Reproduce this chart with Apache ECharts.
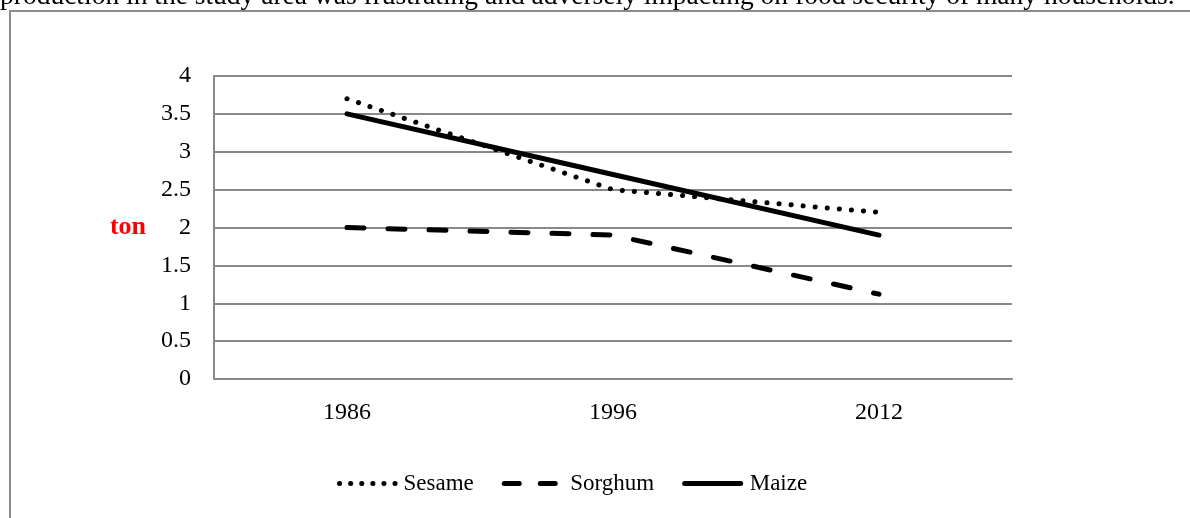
<!DOCTYPE html>
<html>
<head>
<meta charset="utf-8">
<script src="https://cdn.jsdelivr.net/npm/echarts@6/dist/echarts.min.js"></script>
<style>
html, body { margin: 0; padding: 0; background: #fff; }
#chart { width: 1190px; height: 518px; }
</style>
</head>
<body>
<div id="chart"></div>
<script>
var years = ['1986', '1996', '2012'];
var sesame = [3.7, 2.5, 2.2];
var sorghum = [2.0, 1.9, 1.12];
var maize = [3.5, 2.7, 1.9];
var yTicks = ['0', '0.5', '1', '1.5', '2', '2.5', '3', '3.5', '4'];

var font = '"Liberation Serif", "Times New Roman", serif';

function initLineChart(id){
    var chart_obj = echarts.init(document.getElementById(id));
    var option = {
        animation: false,
        graphic: [
            {
                type: 'text',
                left: 0,
                top: -17,
                style: {
                    text: 'production in the study area was frustrating and adversely impacting on food security of many households.',
                    font: '27.5px ' + font,
                    fill: '#000'
                }
            },
            {
                type: 'rect',
                shape: { x: 10, y: 11, width: 1300, height: 700 },
                style: { fill: 'none', stroke: '#8c8c8c', lineWidth: 2 }
            }
        ],
        grid: { left: 214, right: 178, top: 76, bottom: 139 },
        legend: {
            bottom: 18,
            left: 332,
            itemWidth: 56,
            itemHeight: 14,
            itemGap: 28,
            itemStyle: { color: 'rgba(0,0,0,0)', borderWidth: 0 },
            lineStyle: { width: 5, cap: 'round' },
            textStyle: { fontFamily: font, fontSize: 23, color: '#000' },
            data: [
                { name: 'Sesame', lineStyle: { type: [0.1, 11] }, textStyle: { padding: [0, 0, 0, 3] } },
                { name: 'Sorghum', lineStyle: { type: [15, 21] }, textStyle: { padding: [0, 0, 0, 5] } },
                { name: 'Maize', textStyle: { padding: [0, 0, 0, 4] } }
            ]
        },
        xAxis: {
            type: 'category',
            data: years,
            boundaryGap: true,
            axisLine: { lineStyle: { color: '#888', width: 2 } },
            axisTick: { show: false },
            axisLabel: { fontFamily: font, fontSize: 24, color: '#000', margin: 22 }
        },
        yAxis: {
            type: 'value',
            min: 0,
            max: 4,
            interval: 0.5,
            name: 'ton',
            nameLocation: 'middle',
            nameRotate: 0,
            nameGap: 68,
            nameTextStyle: { fontFamily: font, fontSize: 26, fontWeight: 'bold', color: '#ff0000', align: 'right' },
            axisLine: { show: true, lineStyle: { color: '#888', width: 2 } },
            axisTick: { show: false },
            splitLine: { lineStyle: { color: '#888', width: 2 } },
            axisLabel: {
                fontFamily: font, fontSize: 24, color: '#000', margin: 23,
                formatter: function(v){ return yTicks[Math.round(v * 2)]; }
            }
        },
        series: [
            {
                name: 'Sesame',
                type: 'line',
                data: sesame,
                symbol: 'none',
                lineStyle: { color: '#000', width: 5, type: [0.1, 12], cap: 'round' },
                itemStyle: { color: '#000' }
            },
            {
                name: 'Sorghum',
                type: 'line',
                data: sorghum,
                symbol: 'none',
                lineStyle: { color: '#000', width: 5, type: [17, 24], cap: 'round' },
                itemStyle: { color: '#000' }
            },
            {
                name: 'Maize',
                type: 'line',
                data: maize,
                symbol: 'none',
                lineStyle: { color: '#000', width: 5, cap: 'round' },
                itemStyle: { color: '#000' }
            }
        ]
    };
    chart_obj.setOption(option);
    return chart_obj;
}

initLineChart('chart');
</script>
</body>
</html>
